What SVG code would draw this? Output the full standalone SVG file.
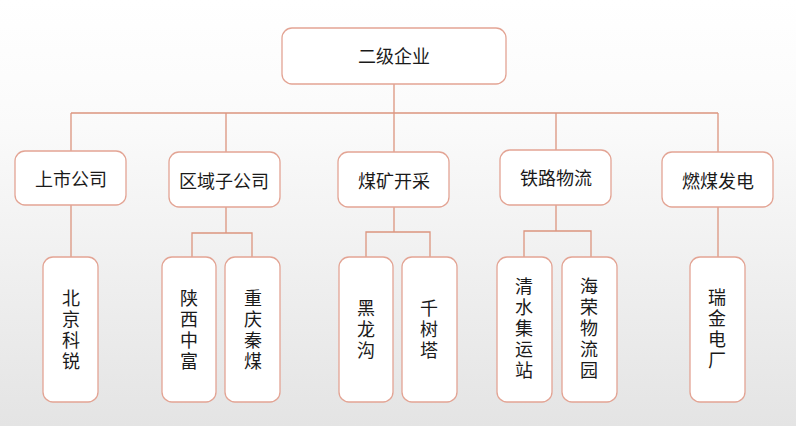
<svg xmlns="http://www.w3.org/2000/svg" width="796" height="426" viewBox="0 0 796 426">
<defs>
<linearGradient id="bg" x1="0" y1="0" x2="0" y2="1">
<stop offset="0" stop-color="#ffffff"/>
<stop offset="0.3" stop-color="#fafafa"/>
<stop offset="1" stop-color="#e4e4e4"/>
</linearGradient>
</defs>
<style>
.box{fill:#ffffff;stroke:#e3a494;stroke-width:1.3}
.ln{fill:none;stroke:#dc957f;stroke-width:1.3}
.t{font-family:"Noto Sans CJK SC","Liberation Sans",sans-serif;font-size:18px;fill:#1a1a1a;text-anchor:middle;dominant-baseline:central}
.v{font-family:"Noto Sans CJK SC","Liberation Sans",sans-serif;font-size:18px;fill:#1a1a1a;text-anchor:middle;writing-mode:vertical-rl;letter-spacing:3px}
</style>
<rect x="0" y="0" width="796" height="426" fill="url(#bg)"/>
<g id="connectors">
<path class="ln" d="M394,84 V113 M71,113 H718 M71,113 V151 M226,113 V152 M394,113 V152 M556,113 V150 M718,113 V152"/>
<path class="ln" d="M71,205 V257"/>
<path class="ln" d="M226,207 V233 M192,257 V233 H252 V257"/>
<path class="ln" d="M394,207 V232 M366,257 V232 H430 V257"/>
<path class="ln" d="M556,205 V231 M524,257 V231 H591 V257"/>
<path class="ln" d="M718,207 V257"/>
</g>
<g id="n-root"><rect class="box" x="282" y="28" width="224" height="56" rx="10"/><text class="t" x="394" y="55">二级企业</text></g>
<g id="n-shangshi"><rect class="box" x="15" y="151" width="111" height="54" rx="10"/><text class="t" x="71" y="178">上市公司</text></g>
<g id="n-quyu"><rect class="box" x="169" y="152" width="111" height="55" rx="10"/><text class="t" x="224" y="180">区域子公司</text></g>
<g id="n-meikuang"><rect class="box" x="338" y="152" width="111" height="55" rx="10"/><text class="t" x="394" y="180">煤矿开采</text></g>
<g id="n-tielu"><rect class="box" x="500" y="150" width="111" height="55" rx="10"/><text class="t" x="556" y="177">铁路物流</text></g>
<g id="n-ranmei"><rect class="box" x="662" y="152" width="111" height="55" rx="10"/><text class="t" x="718" y="180">燃煤发电</text></g>
<g id="n-beijing"><rect class="box" x="43" y="257" width="55" height="145" rx="10"/><text class="v" x="71" y="331">北京科锐</text></g>
<g id="n-shaanxi"><rect class="box" x="162" y="257" width="54" height="145" rx="10"/><text class="v" x="189" y="331">陕西中富</text></g>
<g id="n-chongqing"><rect class="box" x="225" y="257" width="55" height="145" rx="10"/><text class="v" x="253" y="331">重庆秦煤</text></g>
<g id="n-heilonggou"><rect class="box" x="339" y="257" width="54" height="145" rx="10"/><text class="v" x="366" y="331">黑龙沟</text></g>
<g id="n-qianshuta"><rect class="box" x="402" y="257" width="55" height="145" rx="10"/><text class="v" x="429" y="331">千树塔</text></g>
<g id="n-qingshui"><rect class="box" x="497" y="257" width="55" height="145" rx="10"/><text class="v" x="524" y="330">清水集运站</text></g>
<g id="n-hairong"><rect class="box" x="562" y="257" width="55" height="145" rx="10"/><text class="v" x="589" y="330">海荣物流园</text></g>
<g id="n-ruijin"><rect class="box" x="690" y="257" width="55" height="145" rx="10"/><text class="v" x="717" y="330">瑞金电厂</text></g>
</svg>
